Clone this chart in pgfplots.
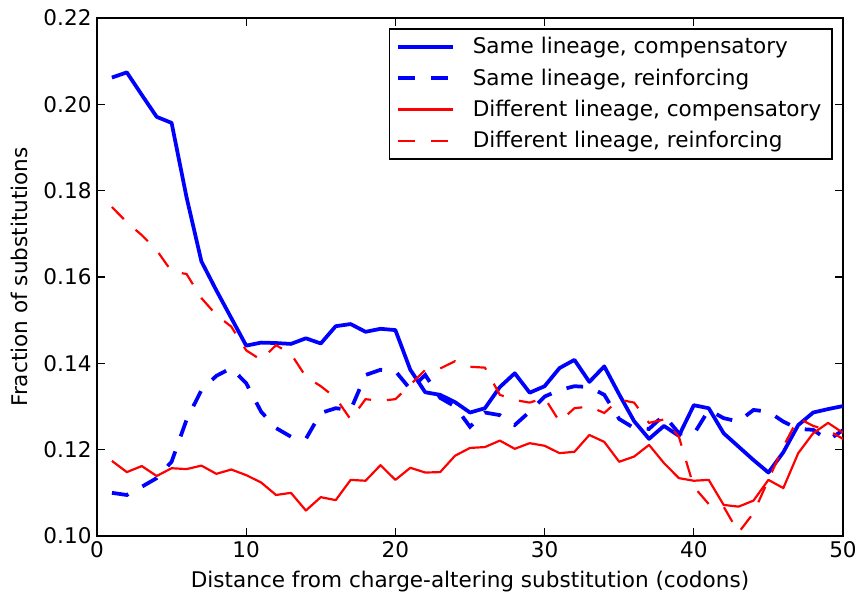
\documentclass[border=0pt]{standalone}
\usepackage{pgfplots}
\pgfplotsset{compat=1.18}
\usepackage{pgfplotstable}
\usepackage{fontspec}
\setmainfont{DejaVu Sans}
\pgfplotstableread{
x sc sr dc dr
1 0.2062 0.1100 0.1174 0.1762
2 0.2074 0.1095 0.1148 0.1727
3 0.2022 0.1114 0.1162 0.1697
4 0.1971 0.1134 0.1139 0.1662
5 0.1957 0.1172 0.1157 0.1613
6 0.1785 0.1269 0.1155 0.1607
7 0.1636 0.1338 0.1163 0.1551
8 0.1569 0.1371 0.1144 0.1512
9 0.1505 0.1389 0.1154 0.1485
10 0.1441 0.1354 0.1141 0.1430
11 0.1448 0.1288 0.1124 0.1408
12 0.1447 0.1250 0.1095 0.1442
13 0.1445 0.1230 0.1100 0.1422
14 0.1458 0.1225 0.1059 0.1369
15 0.1446 0.1285 0.1090 0.1347
16 0.1486 0.1296 0.1083 0.1320
17 0.1491 0.1292 0.1130 0.1270
18 0.1473 0.1373 0.1128 0.1317
19 0.1480 0.1385 0.1164 0.1313
20 0.1477 0.1382 0.1130 0.1317
21 0.1385 0.1340 0.1158 0.1350
22 0.1333 0.1373 0.1147 0.1385
23 0.1327 0.1320 0.1148 0.1388
24 0.1310 0.1300 0.1186 0.1405
25 0.1286 0.1253 0.1204 0.1392
26 0.1296 0.1286 0.1206 0.1390
27 0.1345 0.1280 0.1221 0.1327
28 0.1377 0.1257 0.1202 0.1315
29 0.1332 0.1288 0.1215 0.1309
30 0.1347 0.1323 0.1209 0.1320
31 0.1389 0.1338 0.1192 0.1265
32 0.1408 0.1347 0.1195 0.1296
33 0.1357 0.1345 0.1234 0.1300
34 0.1393 0.1327 0.1218 0.1285
35 0.1328 0.1271 0.1172 0.1316
36 0.1266 0.1250 0.1184 0.1309
37 0.1225 0.1248 0.1211 0.1262
38 0.1255 0.1280 0.1169 0.1270
39 0.1232 0.1238 0.1134 0.1230
40 0.1303 0.1236 0.1128 0.1114
41 0.1296 0.1292 0.1130 0.1074
42 0.1238 0.1273 0.1072 0.1068
43 0.1207 0.1265 0.1068 0.1008
44 0.1176 0.1292 0.1082 0.1053
45 0.1147 0.1288 0.1130 0.1130
46 0.1194 0.1265 0.1111 0.1207
47 0.1257 0.1248 0.1192 0.1273
48 0.1286 0.1246 0.1238 0.1255
49 0.1294 0.1222 0.1262 0.1245
50 0.1301 0.1245 0.1239 0.1225
}\datatable
\definecolor{mplblue}{rgb}{0,0,1}
\definecolor{mplred}{rgb}{1,0,0}
\begin{document}
\begin{tikzpicture}
\useasboundingbox (-62.08pt,-39.68pt) rectangle (487.68pt,343.04pt);
\begin{axis}[
  at={(0,0)}, anchor=south west,
  scale only axis,
  width=477.44pt, height=331.52pt,
  xmin=0, xmax=50, ymin=0.10, ymax=0.22,
  xtick={0,10,20,30,40,50},
  ytick={0.10,0.12,0.14,0.16,0.18,0.20,0.22},
  yticklabel style={/pgf/number format/fixed, /pgf/number format/fixed zerofill, /pgf/number format/precision=2},
  /pgf/number format/assume math mode=true,
  scaled y ticks=false,
  tick style={black, line width=0.8pt},
  major tick length=5pt,
  tick align=inside,
  axis line style={line width=1pt},
  every tick label/.append style={font=\fontsize{13.8}{16}\selectfont},
  xlabel={Distance from charge-altering substitution (codons)},
  ylabel={Fraction of substitutions},
  label style={font=\fontsize{13.8}{16}\selectfont},
  xlabel style={at={(axis description cs:0.5,-0.0887)}, anchor=center},
  ylabel style={at={(axis description cs:-0.1033,0.5)}, anchor=center, rotate=0},
  legend style={at={(axis description cs:0.9866,0.9807)}, anchor=north east,
    font=\fontsize{13.8}{16}\selectfont, draw=black, line width=1pt,
    row sep=4.1pt, column sep=9pt, inner xsep=4.5pt, inner ysep=3.5pt,
    nodes={inner xsep=2.5pt}},
  legend cell align=left,
  legend image code/.code={\draw[#1] (0pt,0pt) -- (35pt,0pt);},
]
\addplot[mplblue, line width=2.4pt, line join=round] table[x=x,y=sc]{\datatable};
\addlegendentry{Same lineage, compensatory}
\addplot[mplblue, line width=2.4pt, dash pattern=on 10.8pt off 10.2pt] table[x=x,y=sr]{\datatable};
\addlegendentry{Same lineage, reinforcing}
\addplot[mplred, line width=1.4pt, line join=round] table[x=x,y=dc]{\datatable};
\addlegendentry{Different lineage, compensatory}
\addplot[mplred, line width=1.4pt, dash pattern=on 10.8pt off 10.2pt] table[x=x,y=dr]{\datatable};
\addlegendentry{Different lineage, reinforcing}
\end{axis}
\end{tikzpicture}
\end{document}
